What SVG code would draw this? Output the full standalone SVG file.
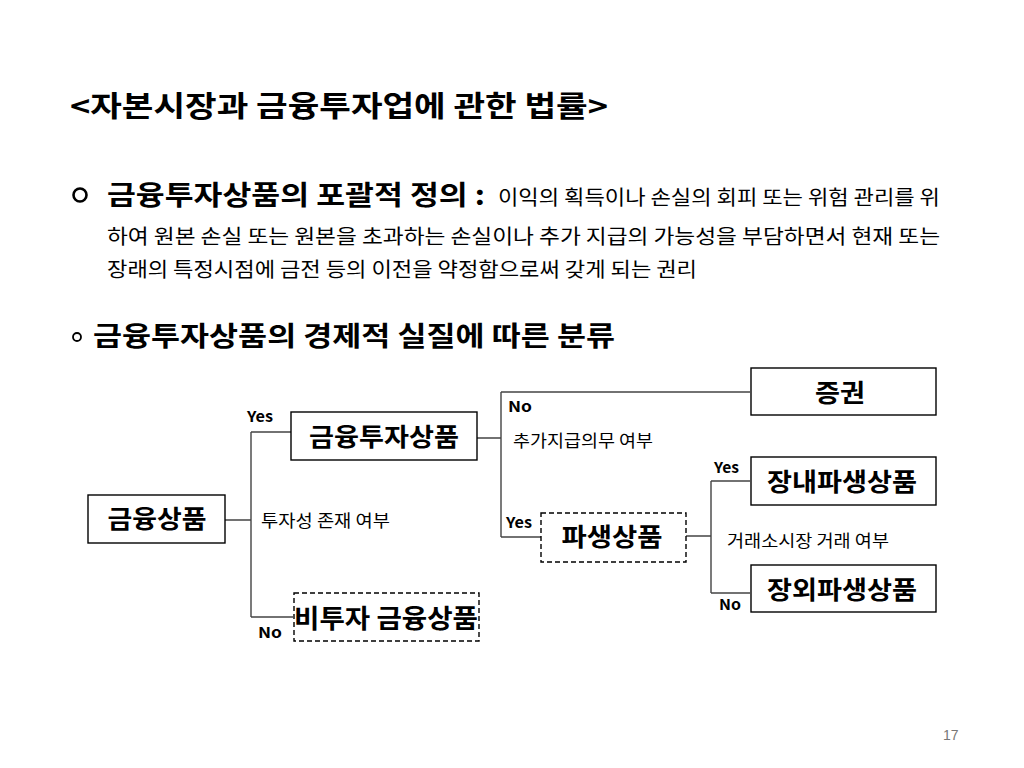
<svg xmlns="http://www.w3.org/2000/svg" width="1024" height="768" viewBox="0 0 1024 768">
<style>
text{font-family:'Noto Sans CJK KR','Noto Sans',sans-serif;fill:#000}
.title{font-size:29px;font-weight:bold}
.head{font-size:27px;font-weight:bold}
.body{font-size:20px}
.node rect{fill:#fff;stroke:#000;stroke-width:1.4}
.node rect.dash{stroke-dasharray:5,3}
.node text{font-size:25px;font-weight:bold;text-anchor:middle}
.yn{font-size:15px;font-weight:bold}
.q{font-size:16.5px}
#connectors path{fill:none;stroke:#444;stroke-width:1.4}
</style>
<rect width="1024" height="768" fill="#fff"/>
<text class="title" x="70" y="117" textLength="538" lengthAdjust="spacingAndGlyphs">&lt;자본시장과 금융투자업에 관한 법률&gt;</text>
<circle cx="80" cy="195" r="6.5" fill="none" stroke="#000" stroke-width="2.6"/>
<text class="head" x="107" y="205" textLength="378" lengthAdjust="spacingAndGlyphs">금융투자상품의 포괄적 정의 :</text>
<text class="body" x="498" y="205" textLength="442" lengthAdjust="spacingAndGlyphs">이익의 획득이나 손실의 회피 또는 위험 관리를 위</text>
<text class="body" x="107" y="244" textLength="833" lengthAdjust="spacingAndGlyphs">하여 원본 손실 또는 원본을 초과하는 손실이나 추가 지급의 가능성을 부담하면서 현재 또는</text>
<text class="body" x="107" y="277" textLength="590" lengthAdjust="spacingAndGlyphs">장래의 특정시점에 금전 등의 이전을 약정함으로써 갖게 되는 권리</text>
<circle cx="77" cy="337" r="4" fill="none" stroke="#000" stroke-width="1.8"/>
<text class="head" x="93" y="346" textLength="522" lengthAdjust="spacingAndGlyphs">금융투자상품의 경제적 실질에 따른 분류</text>

<g id="connectors">
<path d="M225,520 H251 M251,432 V617 M251,432 H291 M251,617 H293"/>
<path d="M477,438 H501 M501,392 V537 M501,392 H750 M501,537 H541"/>
<path d="M686,536 H711 M711,481 V593 M711,481 H750 M711,593 H750"/>
</g>

<g id="n-financial" class="node"><rect x="88" y="495" width="137" height="48"/><text x="157" y="528" textLength="99" lengthAdjust="spacingAndGlyphs">금융상품</text></g>
<g id="n-invest" class="node"><rect x="291" y="412" width="186" height="48"/><text x="384" y="446" textLength="150" lengthAdjust="spacingAndGlyphs">금융투자상품</text></g>
<g id="n-noninvest" class="node"><rect class="dash" x="294" y="593" width="185" height="48"/><text x="386" y="628" style="font-size:26px" textLength="184" lengthAdjust="spacingAndGlyphs">비투자 금융상품</text></g>
<g id="n-security" class="node"><rect x="751" y="368" width="185" height="47"/><text x="840" y="402" textLength="50" lengthAdjust="spacingAndGlyphs">증권</text></g>
<g id="n-deriv" class="node"><rect class="dash" x="541" y="513" width="145" height="49"/><text x="612" y="546" textLength="101" lengthAdjust="spacingAndGlyphs">파생상품</text></g>
<g id="n-exch" class="node"><rect x="751" y="457" width="185" height="48"/><text x="842" y="491" textLength="150" lengthAdjust="spacingAndGlyphs">장내파생상품</text></g>
<g id="n-otc" class="node"><rect x="751" y="565" width="185" height="47"/><text x="842" y="599" textLength="150" lengthAdjust="spacingAndGlyphs">장외파생상품</text></g>

<g id="labels">
<text class="yn" x="247" y="422" textLength="26" lengthAdjust="spacingAndGlyphs">Yes</text>
<text class="yn" x="258" y="638" textLength="24" lengthAdjust="spacingAndGlyphs">No</text>
<text class="q" x="261" y="527" textLength="129" lengthAdjust="spacingAndGlyphs">투자성 존재 여부</text>
<text class="yn" x="508" y="412" textLength="24" lengthAdjust="spacingAndGlyphs">No</text>
<text class="q" x="513" y="447" textLength="140" lengthAdjust="spacingAndGlyphs">추가지급의무 여부</text>
<text class="yn" x="506" y="528" textLength="26" lengthAdjust="spacingAndGlyphs">Yes</text>
<text class="yn" x="714" y="473" textLength="25" lengthAdjust="spacingAndGlyphs">Yes</text>
<text class="q" x="727" y="547" textLength="162" lengthAdjust="spacingAndGlyphs">거래소시장 거래 여부</text>
<text class="yn" x="719" y="610" textLength="22" lengthAdjust="spacingAndGlyphs">No</text>
</g>
<text x="943" y="740" style="font-family:'Liberation Sans',sans-serif;font-size:14px;fill:#777">17</text>
</svg>
